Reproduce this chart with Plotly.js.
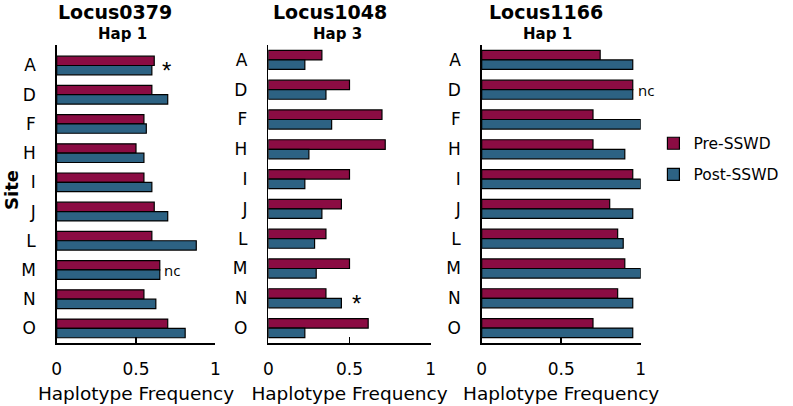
<!DOCTYPE html>
<html>
<head>
<meta charset="utf-8">
<script src="https://cdn.plot.ly/plotly-3.0.1.min.js"></script>
<style>
  html, body { margin: 0; padding: 0; background: #fff; }
  #chart { width: 793px; height: 406px; }
</style>
</head>
<body>
<div id="chart"></div>
<script>
// data
const sites = ["A", "D", "F", "H", "I", "J", "L", "M", "N", "O"];
const loci = ["Locus0379", "Locus1048", "Locus1166"];
const haps = ["Hap 1", "Hap 3", "Hap 1"];
const seriesNames = ["Pre-SSWD", "Post-SSWD"];

const pre0379 = [0.615, 0.60, 0.55, 0.50, 0.55, 0.615, 0.60, 0.65, 0.55, 0.70];
const post0379 = [0.60, 0.70, 0.565, 0.55, 0.60, 0.70, 0.88, 0.65, 0.625, 0.81];
const pre1048 = [0.33, 0.50, 0.70, 0.72, 0.50, 0.45, 0.355, 0.50, 0.355, 0.615];
const post1048 = [0.225, 0.355, 0.39, 0.25, 0.225, 0.33, 0.285, 0.295, 0.45, 0.225];
const pre1166 = [0.745, 0.95, 0.70, 0.70, 0.95, 0.805, 0.855, 0.90, 0.855, 0.70];
const post1166 = [0.95, 0.95, 1.0, 0.90, 1.0, 0.95, 0.89, 1.0, 0.95, 0.95];

// significance marks: [panel, site, text]
const marks = [
  [0, "A", "*"],
  [0, "M", "nc"],
  [1, "N", "*"],
  [2, "D", "nc"]
];
const markX = [0.69, 0.665, 0.545, 0.97];

const preColor = "#8b0c43";
const postColor = "#2d6283";
const font = "DejaVu Sans, Liberation Sans, sans-serif";

const W = 793, H = 406;
const xDomPx = [[56.7, 215.3], [268.3, 430.7], [481.7, 640.7]];
const yTopPx = 45, yBotPx = 343;
const titleXPx = [115, 330, 546];
const hapXPx = [122, 337, 547];

const preVals = [pre0379, pre1048, pre1166];
const postVals = [post0379, post1048, post1166];

const traces = [];
const layout = {
  width: W, height: H,
  margin: { l: 0, r: 0, t: 0, b: 0 },
  paper_bgcolor: "#fff",
  plot_bgcolor: "#fff",
  barmode: "group",
  bargap: 0.36,
  bargroupgap: 0,
  font: { family: font, color: "#000", size: 17 },
  showlegend: true,
  legend: {
    x: 0.824, y: 0.688, xanchor: "left", yanchor: "top",
    font: { size: 15.5, family: font },
    tracegroupgap: 8,
    itemwidth: 30
  },
  annotations: [],
};

for (let i = 0; i < 3; i++) {
  const sfx = i === 0 ? "" : String(i + 1);
  const xa = "x" + sfx, ya = "y" + sfx;
  [[preVals[i], preColor, seriesNames[0]], [postVals[i], postColor, seriesNames[1]]].forEach(([vals, col, name]) => {
    traces.push({
      type: "bar",
      orientation: "h",
      name: name,
      legendgroup: name,
      showlegend: i === 0,
      x: vals,
      y: sites,
      xaxis: xa,
      yaxis: ya,
      marker: { color: col, line: { color: "#000", width: 1.2 } },
      hoverinfo: "x+y+name",
    });
  });

  layout["xaxis" + sfx] = {
    domain: [xDomPx[i][0] / W, xDomPx[i][1] / W],
    anchor: ya,
    range: [0, 1],
    tickvals: [0, 0.5, 1],
    ticktext: ["0", "0.5", "1"],
    ticks: "inside",
    ticklen: 6,
    tickwidth: 1.5,
    tickcolor: "#000",
    showline: true,
    linecolor: "#000",
    linewidth: 1.5,
    showgrid: false,
    zeroline: false,
    automargin: false,
    ticklabelstandoff: 10,
    tickfont: { size: 17 },
    title: { text: "Haplotype Frequency", font: { size: 18.5 }, standoff: 9 },
  };
  layout["yaxis" + sfx] = {
    domain: [1 - yBotPx / H, 1 - yTopPx / H],
    anchor: xa,
    type: "category",
    categoryorder: "array",
    categoryarray: sites,
    autorange: "reversed",
    showline: true,
    linecolor: "#000",
    linewidth: 1.5,
    ticks: "",
    showgrid: false,
    zeroline: false,
    automargin: false,
    ticklabelstandoff: 16,
    tickfont: { size: 17 },
  };

  layout.annotations.push({
    xref: "paper", yref: "paper",
    x: titleXPx[i] / W, y: 1 - 12.5 / H,
    text: "<b>" + loci[i] + "</b>",
    showarrow: false,
    font: { size: 19, family: font },
    xanchor: "center", yanchor: "middle",
  });
  layout.annotations.push({
    xref: "paper", yref: "paper",
    x: hapXPx[i] / W, y: 1 - 34 / H,
    text: "<b>" + haps[i] + "</b>",
    showarrow: false,
    font: { size: 15, family: font },
    xanchor: "center", yanchor: "middle",
  });
}

marks.forEach(([p, site, txt], k) => {
  const sfx = p === 0 ? "" : String(p + 1);
  const star = txt === "*";
  layout.annotations.push({
    xref: "x" + sfx, yref: "y" + sfx,
    x: markX[k], y: site,
    text: txt,
    showarrow: false,
    xanchor: star ? "center" : "left",
    yanchor: "middle",
    yshift: star ? -5 : 0,
    font: star ? { size: 24, family: "Liberation Sans, sans-serif" } : { size: 15, family: "Open Sans, sans-serif" },
  });
});

layout.annotations.push({
  xref: "paper", yref: "paper",
  x: 11 / W, y: 1 - 190 / H,
  text: "<b>Site</b>",
  textangle: -90,
  showarrow: false,
  font: { size: 18, family: font },
  xanchor: "center", yanchor: "middle",
});

Plotly.newPlot("chart", traces, layout, { displayModeBar: false, staticPlot: true });
</script>
</body>
</html>
